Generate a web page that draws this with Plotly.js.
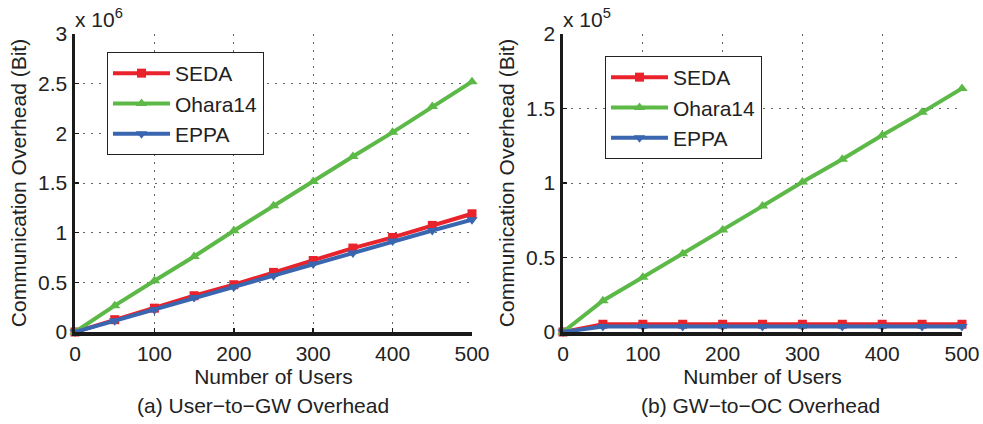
<!DOCTYPE html>
<html>
<head>
<meta charset="utf-8">
<script src="https://cdn.plot.ly/plotly-3.0.1.min.js"></script>
<style>html,body{margin:0;padding:0;background:#fff;}#chart{width:983px;height:424px;}</style>
</head>
<body>
<div id="chart"></div>
<script>
// Number of users (x axis, both panels)
const users = [0, 50, 100, 150, 200, 250, 300, 350, 400, 450, 500];

// (a) User-to-GW overhead, bits
const sedaA  = [0, 124000, 240000, 365000, 476000, 600000, 720000, 845000, 952000, 1073000, 1190000];
const oharaA = [0, 265000, 516000, 760000, 1019000, 1270000, 1515000, 1767000, 2010000, 2270000, 2520000];
const eppaA  = [0, 114000, 224000, 348000, 453000, 566000, 684000, 795000, 915000, 1022000, 1130000];

// (b) GW-to-OC overhead, bits
const sedaB  = [0, 5200, 5200, 5200, 5200, 5200, 5200, 5200, 5200, 5200, 5200];
const oharaB = [0, 21000, 36700, 52500, 68400, 84500, 100700, 116000, 132100, 147400, 163500];
const eppaB  = [0, 3700, 3700, 3700, 3700, 3700, 3700, 3700, 3700, 3700, 3700];

// Tick labels
const xTicks = [0, 100, 200, 300, 400, 500];
const xTickText = ['0', '100', '200', '300', '400', '500'];
const yTicksA = [0, 500000, 1000000, 1500000, 2000000, 2500000, 3000000];
const yTickTextA = ['0', '0.5', '1', '1.5', '2', '2.5', '3'];
const yTicksB = [0, 50000, 100000, 150000, 200000];
const yTickTextB = ['0', '0.5', '1', '1.5', '2'];

const seriesNames = ['SEDA', 'Ohara14', 'EPPA'];
const colors = ['#e8232b', '#5cb947', '#3a66b0'];
const symbols = ['square', 'triangle-up', 'triangle-down'];
const msizes = [9, 10, 10];

function mk(y, i, xa, ya, leg) {
  return {
    x: users, y: y, type: 'scatter', mode: 'lines+markers',
    name: seriesNames[i], xaxis: xa, yaxis: ya, legend: leg,
    line: {color: colors[i], width: 4},
    marker: {symbol: symbols[i], size: msizes[i], color: colors[i]},
    cliponaxis: false
  };
}

const data = [
  mk(sedaA, 0, 'x', 'y', 'legend'),
  mk(oharaA, 1, 'x', 'y', 'legend'),
  mk(eppaA, 2, 'x', 'y', 'legend'),
  mk(sedaB, 0, 'x2', 'y2', 'legend2'),
  mk(oharaB, 1, 'x2', 'y2', 'legend2'),
  mk(eppaB, 2, 'x2', 'y2', 'legend2')
];

const font = {family: '"Liberation Sans", Arial, sans-serif', size: 21, color: '#222'};

function xax(domain, anchor) {
  return {
    domain: domain, anchor: anchor, range: [0, 500],
    tickvals: xTicks, ticktext: xTickText,
    showline: true, linewidth: 3.5, linecolor: '#1a1a1a', mirror: false,
    ticks: 'inside', ticklen: 4, tickwidth: 1.5, tickcolor: '#1a1a1a',
    showgrid: true, gridcolor: '#666', griddash: '2px,6px', gridwidth: 1,
    zeroline: false, automargin: false,
    tickfont: font,
    title: {text: 'Number of Users', font: font, standoff: 0}
  };
}
function yax(domain, anchor, tv, tt, maxv) {
  return {
    domain: domain, anchor: anchor, range: [0, maxv],
    tickvals: tv, ticktext: tt,
    showline: true, linewidth: 3.5, linecolor: '#1a1a1a', mirror: false,
    ticks: 'inside', ticklen: 4, tickwidth: 1.5, tickcolor: '#1a1a1a',
    showgrid: true, gridcolor: '#666', griddash: '2px,6px', gridwidth: 1,
    zeroline: false, automargin: false,
    tickfont: font,
    title: {text: 'Communication Overhead (Bit)', font: font, standoff: 6}
  };
}

const ydom = [1 - 332 / 424, 1 - 34 / 424];

const layout = {
  width: 983, height: 424,
  margin: {l: 0, r: 0, t: 0, b: 0},
  paper_bgcolor: '#fff', plot_bgcolor: '#fff',
  font: font,
  showlegend: true,
  xaxis: xax([75 / 983, 472 / 983], 'y'),
  yaxis: yax(ydom, 'x', yTicksA, yTickTextA, 3000000),
  xaxis2: xax([563 / 983, 962 / 983], 'y2'),
  yaxis2: yax(ydom, 'x2', yTicksB, yTickTextB, 200000),
  legend: {
    x: 107 / 983, y: 1 - 52 / 424, xanchor: 'left', yanchor: 'top',
    bgcolor: '#fff', bordercolor: '#222', borderwidth: 1, font: font,
    tracegroupgap: 0, itemwidth: 57
  },
  legend2: {
    x: 605 / 983, y: 1 - 56 / 424, xanchor: 'left', yanchor: 'top',
    bgcolor: '#fff', bordercolor: '#222', borderwidth: 1, font: font,
    tracegroupgap: 0, itemwidth: 57
  },
  annotations: [
    {text: 'x 10<sup>6</sup>', xref: 'paper', yref: 'paper', x: 73 / 983, y: 1 - 18 / 424,
     xanchor: 'left', yanchor: 'middle', showarrow: false, font: font},
    {text: 'x 10<sup>5</sup>', xref: 'paper', yref: 'paper', x: 561 / 983, y: 1 - 18 / 424,
     xanchor: 'left', yanchor: 'middle', showarrow: false, font: font},
    {text: '(a) User\u2212to\u2212GW Overhead', xref: 'paper', yref: 'paper', x: 263 / 983, y: 1 - 405 / 424,
     xanchor: 'center', yanchor: 'middle', showarrow: false, font: font},
    {text: '(b) GW\u2212to\u2212OC Overhead', xref: 'paper', yref: 'paper', x: 760 / 983, y: 1 - 405 / 424,
     xanchor: 'center', yanchor: 'middle', showarrow: false, font: font}
  ]
};

Plotly.newPlot('chart', data, layout, {staticPlot: true, displayModeBar: false});
</script>
</body>
</html>
